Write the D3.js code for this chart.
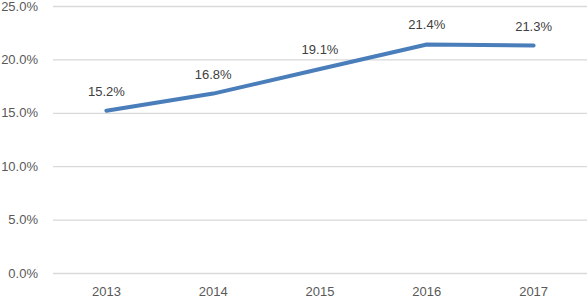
<!DOCTYPE html>
<html><head><meta charset="utf-8">
<script src="https://cdn.jsdelivr.net/npm/d3@7"></script>
<style>body{margin:0;background:#fff}svg{display:block}</style>
</head><body>
<script>
const years = ["2013","2014","2015","2016","2017"];
const values = [15.2, 16.8, 19.1, 21.4, 21.3];
const yTicks = [0, 5, 10, 15, 20, 25];

const W = 588, H = 299;
const m = {left: 53, right: 1, top: 6, bottom: 26};
const svg = d3.select("body").append("svg").attr("width", W).attr("height", H);
const x = d3.scaleBand().domain(years).range([m.left, W - m.right]);
const y = d3.scaleLinear().domain([0, 25]).range([H - m.bottom, m.top]);
const font = "'Liberation Sans', Arial, sans-serif";

const yAxis = svg.append("g").attr("transform", `translate(${m.left},0)`)
  .call(d3.axisLeft(y).tickValues(yTicks).tickFormat(d => d.toFixed(1) + "%").tickSize(-(W - m.left - m.right)).tickPadding(15));
yAxis.select(".domain").remove();
yAxis.selectAll("line").attr("stroke", "#d9d9d9").attr("stroke-width", 1.3);
yAxis.selectAll("text").attr("font-family", font).attr("font-size", 13).attr("fill", "#595959");

const xAxis = svg.append("g").attr("transform", `translate(0,${H - m.bottom})`)
  .call(d3.axisBottom(x).tickSize(0).tickPadding(14));
xAxis.select(".domain").remove();
xAxis.selectAll("text").attr("font-family", font).attr("font-size", 13).attr("fill", "#595959");

const line = d3.line().x((d, i) => x(years[i]) + x.bandwidth() / 2).y(d => y(d));
svg.append("path").datum(values).attr("d", line)
  .attr("fill", "none").attr("stroke", "#4a7ebb").attr("stroke-width", 4).attr("stroke-linecap", "round").attr("stroke-linejoin", "round");

svg.append("g").selectAll("text").data(values).join("text")
  .attr("x", (d, i) => x(years[i]) + x.bandwidth() / 2)
  .attr("y", d => y(d) - 15)
  .attr("text-anchor", "middle")
  .attr("font-family", font).attr("font-size", 13).attr("fill", "#404040")
  .text(d => d.toFixed(1) + "%");
</script>
</body></html>
